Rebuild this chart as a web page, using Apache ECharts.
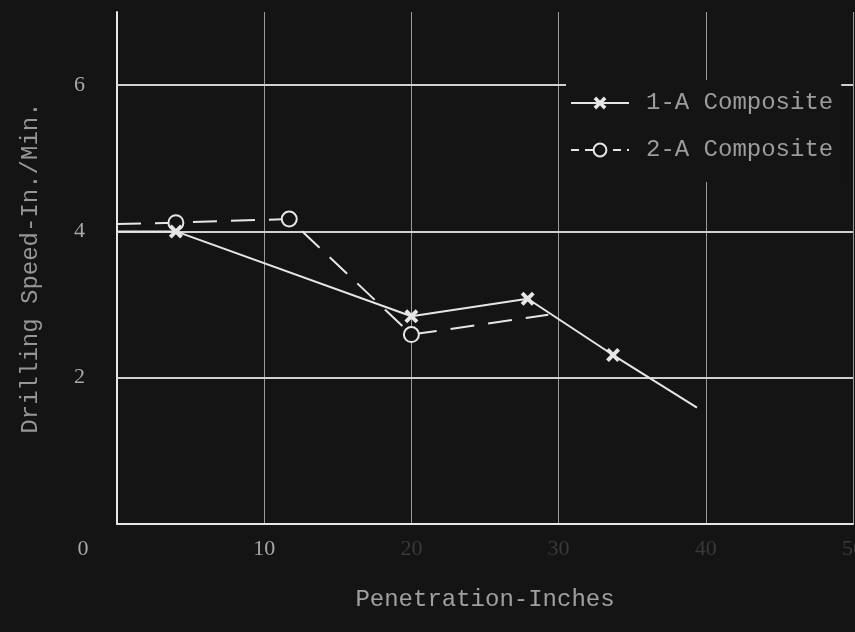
<!doctype html>
<html>
<head>
<meta charset="utf-8">
<title>Drilling Speed vs Penetration</title>
<script src="https://cdn.jsdelivr.net/npm/echarts@6/dist/echarts.min.js"></script>
<style>
  html, body { margin: 0; padding: 0; background: #141414; }
  #chart { width: 855px; height: 632px; }
</style>
</head>
<body>
<div id="chart"></div>
<script>
// penetration (inches) / drilling speed (in./min.)
const compositeA = [[0, 4.0], [4, 4.0], [20, 2.84], [27.9, 3.08], [33.7, 2.31], [39.4, 1.59]];
const compositeB = [[0, 4.1], [4, 4.12], [11.7, 4.17], [20, 2.59], [29.3, 2.86]];
const seriesNames = ["1-A Composite", "2-A Composite"];
const yTicks = [2, 4, 6];

const bg = "#141414";
const ink = "#e6e6e6";
const mono = "'Liberation Mono', 'DejaVu Sans Mono', monospace";
const crossPath = "path://M0,2L2,0L5,3L8,0L10,2L7,5L10,8L8,10L5,7L2,10L0,8L3,5Z";

// first and last points were drawn without a marker
function markEnds(pts) {
  return pts.map((p, i) => ({
    value: p,
    symbolSize: (i === 0 || i === pts.length - 1) ? 0 : undefined
  }));
}

const chart = echarts.init(document.getElementById("chart"));

chart.setOption({
  animation: false,
  backgroundColor: bg,
  grid: { left: 117, right: 2, top: 12, bottom: 108, outerBoundsMode: "none", containLabel: false },
  legend: {
    orient: "vertical",
    left: 566,
    top: 80,
    padding: [11, 8, 20, 4],
    backgroundColor: bg,
    itemWidth: 58,
    itemHeight: 16,
    itemGap: 23,
    z: 6,
    textStyle: { color: "#9c9c9c", fontFamily: mono, fontSize: 24, padding: [0, 0, 0, 12] },
    data: [
      { name: seriesNames[0] },
      { name: seriesNames[1], lineStyle: { type: [8, 6] } }
    ]
  },
  xAxis: {
    type: "value",
    min: 0,
    max: 50,
    interval: 10,
    name: "Penetration-Inches",
    nameLocation: "middle",
    nameGap: 64,
    nameTextStyle: { color: "#a0a0a0", fontFamily: mono, fontSize: 24 },
    axisLine: { lineStyle: { color: ink, width: 2 } },
    axisTick: { show: false },
    splitLine: { show: true, lineStyle: { color: "#9a9a9a", width: 1 } },
    axisLabel: {
      margin: 14,
      fontFamily: "'Liberation Serif', serif",
      fontSize: 22,
      color: "#a8a8a8",
      formatter: v => v === 0 ? "{z|0}" : (v <= 10 ? String(v) : "{f|" + v + "}"),
      rich: {
        z: { fontFamily: "'Liberation Serif', serif", fontSize: 22, color: "#a8a8a8", padding: [0, 68, 0, 0] },
        f: { fontFamily: "'Liberation Serif', serif", fontSize: 22, color: "#3a3a3a" }
      }
    }
  },
  yAxis: {
    type: "value",
    min: 0,
    max: 7,
    interval: 2,
    name: "Drilling Speed-In./Min.",
    nameLocation: "middle",
    nameGap: 74,
    nameTextStyle: { color: "#969696", fontFamily: mono, fontSize: 24 },
    axisLine: { lineStyle: { color: ink, width: 2 } },
    axisTick: { show: false },
    splitLine: { show: false },
    axisLabel: {
      margin: 32,
      fontFamily: "'Liberation Serif', serif",
      fontSize: 22,
      color: "#a8a8a8",
      formatter: v => yTicks.includes(v) ? String(v) : ""
    }
  },
  series: [
    {
      name: seriesNames[1],
      type: "line",
      data: markEnds(compositeB),
      symbol: "circle",
      symbolSize: 15,
      color: ink,
      itemStyle: { color: bg, borderColor: ink, borderWidth: 2 },
      lineStyle: { color: ink, width: 2, type: [24, 14] },
      z: 3,
      markLine: {
        silent: true,
        z: 1,
        symbol: "none",
        label: { show: false },
        lineStyle: { color: "#d0d0d0", width: 2, type: "solid" },
        data: yTicks.map(v => ({ yAxis: v }))
      }
    },
    {
      name: seriesNames[0],
      type: "line",
      data: markEnds(compositeA),
      symbol: crossPath,
      symbolSize: 14,
      color: ink,
      itemStyle: { color: ink },
      lineStyle: { color: ink, width: 2 },
      z: 4
    }
  ]
});
</script>
</body>
</html>
